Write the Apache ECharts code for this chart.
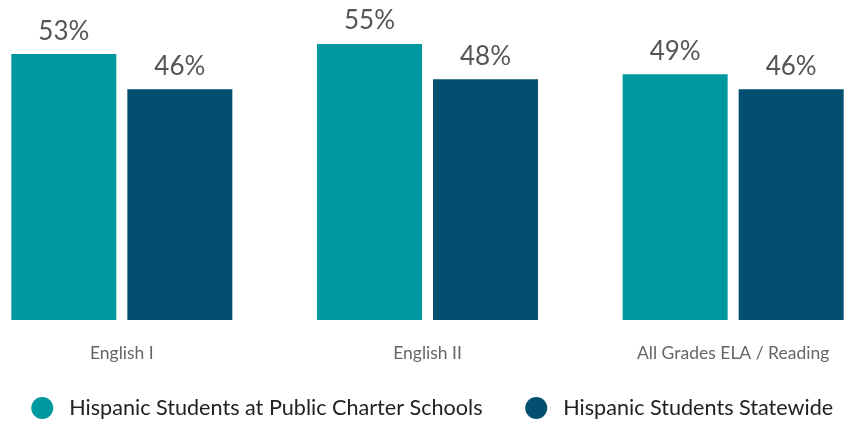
<!DOCTYPE html>
<html>
<head>
<meta charset="utf-8">
<script src="https://cdn.jsdelivr.net/npm/echarts@6/dist/echarts.min.js"></script>
<style>
html,body{margin:0;padding:0;background:#fff;overflow:hidden;width:845px;height:423px;position:relative;}
#c{position:absolute;left:-31.25px;top:0;width:916.5px;height:423px;}
</style>
</head>
<body>
<div id="c"></div>
<script>
const categories = ['English I', 'English II', 'All Grades ELA / Reading'];
const seriesNames = ['Hispanic Students at Public Charter Schools', 'Hispanic Students Statewide'];
const charterValues = [53, 55, 49];
const statewideValues = [46, 48, 46];
const colors = ['#00989F', '#044F6F'];

const shift = 31.25;
const chart = echarts.init(document.getElementById('c'));
const labelStyle = {
  show: true, position: 'top', distance: 10,
  formatter: p => p.value + '%',
  color: '#555555', fontSize: 26, fontFamily: 'Lato'
};
const legendText = { color: '#222', fontSize: 21.6, fontFamily: 'Lato', padding: [0, 0, 0, 11] };
chart.setOption({
  animation: false,
  grid: { left: 0, right: 0, top: 19, bottom: 103, containLabel: false },
  xAxis: {
    type: 'category', data: categories,
    axisLine: { show: false }, axisTick: { show: false },
    axisLabel: { color: '#666', fontSize: 17.5, fontFamily: 'Lato', margin: 24, interval: 0 }
  },
  yAxis: { type: 'value', min: 0, max: 60, show: false, splitLine: { show: false } },
  legend: [
    { data: [seriesNames[0]], left: 26 + shift, top: 392, icon: 'circle', itemWidth: 22, itemHeight: 22, textStyle: legendText },
    { data: [seriesNames[1]], left: 520 + shift, top: 392, icon: 'circle', itemWidth: 22, itemHeight: 22, textStyle: legendText }
  ],
  series: [
    { name: seriesNames[0], type: 'bar', data: charterValues, barWidth: 105, barGap: '10.5%',
      itemStyle: { color: colors[0] }, label: labelStyle },
    { name: seriesNames[1], type: 'bar', data: statewideValues, barWidth: 105, barGap: '10.5%',
      itemStyle: { color: colors[1] }, label: labelStyle }
  ]
});
</script>
</body>
</html>
